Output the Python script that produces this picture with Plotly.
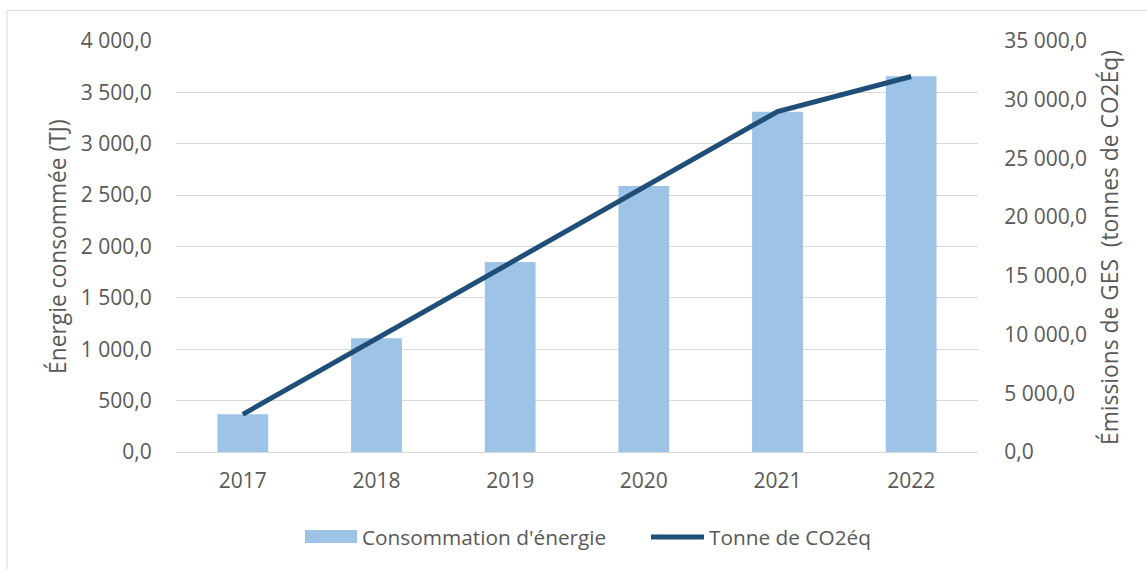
import plotly.graph_objects as go

# data
years = ['2017', '2018', '2019', '2020', '2021', '2022']
energie_tj = [367, 1107, 1850, 2590, 3311, 3658]
co2_tonnes = [3210, 9650, 16020, 22580, 28990, 31980]

y_ticks_left = [0, 500, 1000, 1500, 2000, 2500, 3000, 3500, 4000]
y_ticks_right = [0, 5000, 10000, 15000, 20000, 25000, 30000, 35000]

W, H = 1147, 569
# plot area in pixels
PL, PR, PT, PB = 176, 978, 41, 452

BAR_COLOR = '#9DC3E6'
LINE_COLOR = '#1F4E79'
GRID = '#D9D9D9'
TEXT = '#595959'
FONT = 'Open Sans'
TICK_SIZE = 21
TITLE_SIZE = 22.8
LEGEND_SIZE = 20.8


def px(x):
    return (x - PL) / (PR - PL)


def py(y):
    return (PB - y) / (PB - PT)


fig = go.Figure()

fig.add_trace(go.Bar(
    x=years, y=energie_tj,
    name="Consommation d'énergie",
    marker=dict(color=BAR_COLOR, line_width=0),
    yaxis='y',
))

fig.add_trace(go.Scatter(
    x=years, y=co2_tonnes,
    name='Tonne de CO2éq',
    mode='lines',
    line=dict(color=LINE_COLOR, width=5),
    yaxis='y2',
))

fig.update_layout(
    width=W, height=H,
    margin=dict(l=PL, r=W - PR, t=PT, b=H - PB),
    autosize=False,
    paper_bgcolor='white',
    plot_bgcolor='white',
    separators=', ',
    bargap=0.62,
    showlegend=False,
    font=dict(family=FONT, size=TICK_SIZE, color=TEXT),
    xaxis=dict(
        type='category',
        range=[-0.5, 5.5],
        showgrid=False,
        showline=False,
        zeroline=False,
        ticks='outside', ticklen=10, tickcolor='rgba(0,0,0,0)',
        tickfont=dict(size=TICK_SIZE, color=TEXT),
    ),
    yaxis=dict(
        range=[0, 4000],
        tickvals=y_ticks_left,
        tickformat=',.1f',
        showgrid=True, gridcolor=GRID, gridwidth=1,
        zeroline=True, zerolinecolor=GRID, zerolinewidth=1,
        showline=False,
        ticks='outside', ticklen=19, tickcolor='rgba(0,0,0,0)',
        tickfont=dict(size=TICK_SIZE, color=TEXT),
    ),
    yaxis2=dict(
        range=[0, 35000],
        tickvals=y_ticks_right,
        tickformat=',.1f',
        overlaying='y', side='right',
        showgrid=False, zeroline=False, showline=False,
        ticks='outside', ticklen=21, tickcolor='rgba(0,0,0,0)',
        tickfont=dict(size=TICK_SIZE, color=TEXT),
    ),
)

# axis titles
fig.add_annotation(
    text='Énergie consommée (TJ)',
    x=px(57), y=py(247), xref='paper', yref='paper',
    textangle=-90, showarrow=False,
    font=dict(size=TITLE_SIZE, color=TEXT),
    xanchor='center', yanchor='middle',
)
fig.add_annotation(
    text='Émissions de GES  (tonnes de CO2Éq)',
    x=px(1110), y=py(248), xref='paper', yref='paper',
    textangle=-90, showarrow=False,
    font=dict(size=TITLE_SIZE, color=TEXT),
    xanchor='center', yanchor='middle',
)

# legend drawn by hand to match swatch sizes
fig.add_shape(type='rect', xref='paper', yref='paper',
              x0=px(305), x1=px(357), y0=py(543), y1=py(530),
              fillcolor=BAR_COLOR, line_width=0)
fig.add_annotation(text="Consommation d'énergie", xref='paper', yref='paper',
                   x=px(360), y=py(537), xanchor='left', yanchor='middle',
                   showarrow=False, font=dict(size=LEGEND_SIZE, color=TEXT))
fig.add_shape(type='line', xref='paper', yref='paper',
              x0=px(651), x1=px(704), y0=py(537), y1=py(537),
              line=dict(color=LINE_COLOR, width=5))
fig.add_annotation(text='Tonne de CO2éq', xref='paper', yref='paper',
                   x=px(707), y=py(537), xanchor='left', yanchor='middle',
                   showarrow=False, font=dict(size=LEGEND_SIZE, color=TEXT))

# chart frame
fig.add_shape(type='rect', xref='paper', yref='paper',
              x0=px(7), x1=px(1160), y0=py(590), y1=py(10.5),
              line=dict(color=GRID, width=1), fillcolor='rgba(0,0,0,0)',
              layer='below')

# the page body has an 8px default margin; drop it so the figure sits at 0,0
fig.write_html('out.html', config={'displayModeBar': False},
               post_script="document.body.style.margin='0px';")
